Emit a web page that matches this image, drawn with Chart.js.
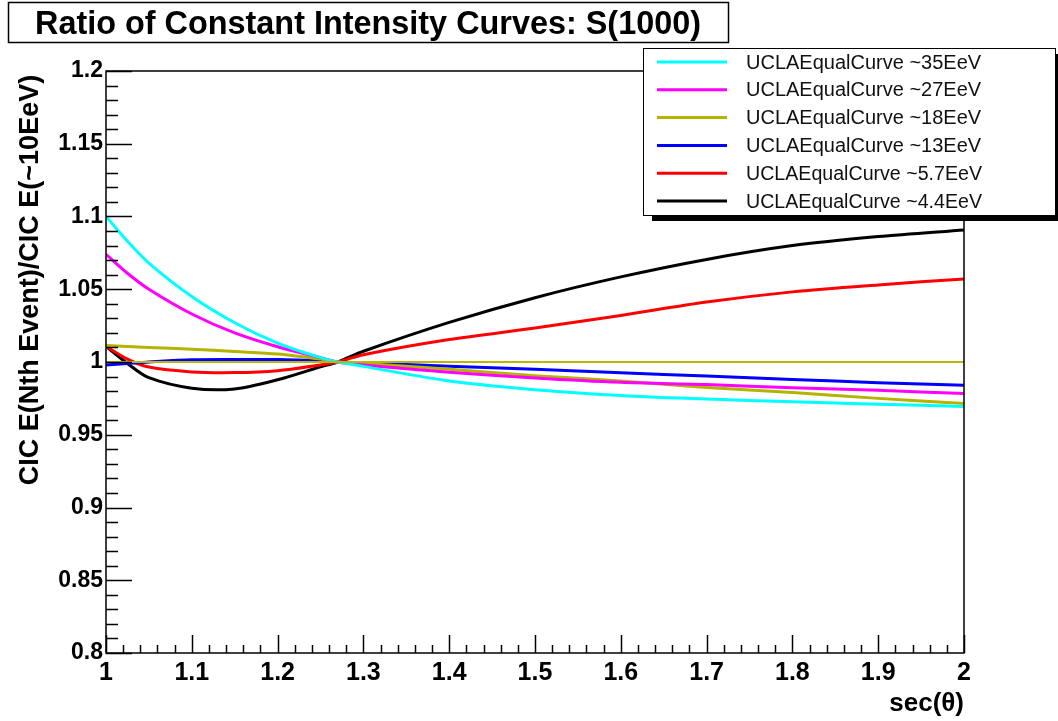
<!DOCTYPE html>
<html>
<head>
<meta charset="utf-8">
<script src="https://cdn.jsdelivr.net/npm/chart.js@4.4.1/dist/chart.umd.min.js"></script>
<style>
  html, body { margin: 0; padding: 0; background: #ffffff; }
  #wrap { width: 1058px; height: 721px; }
</style>
</head>
<body>
<div id="wrap"><canvas id="c" width="1058" height="721"></canvas></div>
<script>
// sec(theta) sample points shared by all curves
const secTheta = [1.0, 1.025, 1.05, 1.1, 1.15, 1.2, 1.25, 1.27, 1.3, 1.4, 1.5, 1.6, 1.7, 1.8, 1.9, 2.0];

// CIC energy ratio for each reference energy
const e35  = [1.100, 1.083, 1.068, 1.045, 1.027, 1.013, 1.003, 1.000, 0.997, 0.987, 0.981, 0.977, 0.9745, 0.9727, 0.971, 0.9695];
const e27  = [1.074, 1.061, 1.050, 1.033, 1.020, 1.0105, 1.003, 1.000, 0.998, 0.993, 0.989, 0.986, 0.9845, 0.9823, 0.9805, 0.9783];
const e18  = [1.0113, 1.0106, 1.0100, 1.0088, 1.0072, 1.0055, 1.002, 1.000, 0.999, 0.995, 0.9905, 0.987, 0.9825, 0.979, 0.975, 0.9715];
const e13  = [0.998, 0.999, 1.000, 1.0015, 1.0017, 1.0017, 1.0008, 1.000, 0.9995, 0.997, 0.995, 0.9926, 0.9903, 0.988, 0.9858, 0.9841];
const e5p7 = [1.0108, 1.002, 0.9965, 0.9932, 0.9927, 0.994, 0.998, 1.000, 1.005, 1.0154, 1.0234, 1.032, 1.0412, 1.0482, 1.053, 1.0571];
const e4p4 = [1.0108, 0.999, 0.9892, 0.9820, 0.9815, 0.9878, 0.9967, 1.000, 1.0074, 1.0272, 1.0442, 1.0585, 1.0705, 1.0800, 1.0862, 1.0908];

// unit reference line
const unitLine = [1.0, 1.0];
const unitX = [1.0, 2.0];

const seriesNames = [
  "UCLAEqualCurve ~35EeV",
  "UCLAEqualCurve ~27EeV",
  "UCLAEqualCurve ~18EeV",
  "UCLAEqualCurve ~13EeV",
  "UCLAEqualCurve ~5.7EeV",
  "UCLAEqualCurve ~4.4EeV"
];
const seriesColors = ["#00ffff", "#ff00ff", "#b3b300", "#0000ff", "#ff0000", "#000000"];
const seriesValues = [e35, e27, e18, e13, e5p7, e4p4];

const xTickValues = [1.0, 1.1, 1.2, 1.3, 1.4, 1.5, 1.6, 1.7, 1.8, 1.9, 2.0];
const xTickLabels = ["1", "1.1", "1.2", "1.3", "1.4", "1.5", "1.6", "1.7", "1.8", "1.9", "2"];
const yTickValues = [0.8, 0.85, 0.9, 0.95, 1.0, 1.05, 1.1, 1.15, 1.2];
const yTickLabels = ["0.8", "0.85", "0.9", "0.95", "1", "1.05", "1.1", "1.15", "1.2"];

const titleText = "Ratio of Constant Intensity Curves: S(1000)";
const yTitle = "CIC E(Nth Event)/CIC E(~10EeV)";
const xTitle = "sec(\u03b8)";

const FONT = '"Liberation Sans", Arial, Helvetica, sans-serif';

const datasets = [{
  label: "unit",
  data: unitX.map((x, i) => ({ x: x, y: unitLine[i] })),
  borderColor: "#b8b800",
  borderWidth: 2,
  pointRadius: 0,
  tension: 0
}];
seriesValues.forEach((vals, k) => {
  datasets.push({
    label: seriesNames[k],
    data: secTheta.map((x, i) => ({ x: x, y: vals[i] })),
    borderColor: seriesColors[k],
    borderWidth: 3,
    pointRadius: 0,
    tension: 0.3
  });
});

// frame, inner tick marks, title box, legend box and axis titles
const rootStyle = {
  id: "rootStyle",
  afterDraw(chart) {
    const ctx = chart.ctx;
    const a = chart.chartArea;
    const xs = chart.scales.x, ys = chart.scales.y;
    ctx.save();

    // frame
    ctx.strokeStyle = "#000";
    ctx.lineWidth = 1.5;
    ctx.strokeRect(a.left, a.top, a.right - a.left, a.bottom - a.top);

    // y ticks: minor every 0.01, major every 0.05
    ctx.beginPath();
    for (let i = 0; i <= 40; i++) {
      const v = 0.8 + i * 0.01;
      const py = Math.round(ys.getPixelForValue(v)) + 0.5;
      const len = (i % 5 === 0) ? 26 : 12;
      ctx.moveTo(a.left, py);
      ctx.lineTo(a.left + len, py);
    }
    // x ticks: minor every 0.02, major every 0.1
    for (let i = 0; i <= 50; i++) {
      const v = 1.0 + i * 0.02;
      const px = Math.round(xs.getPixelForValue(v)) + 0.5;
      const len = (i % 5 === 0) ? 18 : 8;
      ctx.moveTo(px, a.bottom);
      ctx.lineTo(px, a.bottom - len);
    }
    ctx.stroke();

    // title box
    ctx.fillStyle = "#fff";
    ctx.fillRect(8, 2, 720, 40);
    ctx.lineWidth = 1.5;
    ctx.strokeRect(8.5, 2.5, 720, 40);
    ctx.fillStyle = "#000";
    ctx.font = "bold 32.5px " + FONT;
    ctx.textAlign = "center";
    ctx.textBaseline = "alphabetic";
    ctx.fillText(titleText, 368, 34, 666);

    // legend box with shadow
    const lx = 643, ly = 48, lw = 412, lh = 167;
    ctx.fillStyle = "#000";
    ctx.fillRect(lx + 9, ly + 6, lw, lh);
    ctx.fillStyle = "#fff";
    ctx.fillRect(lx, ly, lw, lh);
    ctx.lineWidth = 1;
    ctx.strokeStyle = "#000";
    ctx.strokeRect(lx + 0.5, ly + 0.5, lw, lh);
    ctx.font = "20px " + FONT;
    ctx.textAlign = "left";
    ctx.textBaseline = "middle";
    chart.data.datasets.slice(1).forEach((ds, i) => {
      const yy = 62 + i * 27.8;
      ctx.strokeStyle = ds.borderColor;
      ctx.lineWidth = 3;
      ctx.beginPath();
      ctx.moveTo(657, yy);
      ctx.lineTo(727, yy);
      ctx.stroke();
      ctx.fillStyle = "#111";
      ctx.fillText(ds.label, 746, yy + 1, 236);
    });

    // y axis title
    ctx.fillStyle = "#000";
    ctx.font = "bold 27px " + FONT;
    ctx.save();
    ctx.translate(31, 280);
    ctx.rotate(-Math.PI / 2);
    ctx.textAlign = "center";
    ctx.textBaseline = "middle";
    ctx.fillText(yTitle, 0, 0, 420);
    ctx.restore();

    // x axis title
    ctx.font = "bold 26px " + FONT;
    ctx.textAlign = "right";
    ctx.textBaseline = "alphabetic";
    ctx.fillText(xTitle, 964, 711);

    ctx.restore();
  }
};

new Chart(document.getElementById("c"), {
  type: "line",
  data: { datasets: datasets },
  options: {
    responsive: false,
    animation: false,
    layout: { padding: { top: 71, right: 94, left: 0, bottom: 0 } },
    plugins: { legend: { display: false }, title: { display: false }, tooltip: { enabled: false } },
    scales: {
      x: {
        type: "linear",
        min: 1.0, max: 2.0,
        afterFit(scale) { scale.height = 68; },
        afterBuildTicks(scale) { scale.ticks = xTickValues.map(v => ({ value: v })); },
        grid: { display: false, drawTicks: false },
        border: { display: false },
        ticks: {
          autoSkip: false, maxRotation: 0, padding: 5, color: "#000",
          font: { family: FONT, size: 25, weight: "bold" },
          callback: (v, i) => xTickLabels[i]
        }
      },
      y: {
        type: "linear",
        min: 0.8, max: 1.2,
        afterFit(scale) { scale.width = 106; },
        afterBuildTicks(scale) { scale.ticks = yTickValues.map(v => ({ value: v })); },
        grid: { display: false, drawTicks: false },
        border: { display: false },
        ticks: {
          autoSkip: false, padding: 3, color: "#000",
          font: { family: FONT, size: 23, weight: "bold" },
          callback: (v, i) => yTickLabels[i]
        }
      }
    }
  },
  plugins: [rootStyle]
});
</script>
</body>
</html>
